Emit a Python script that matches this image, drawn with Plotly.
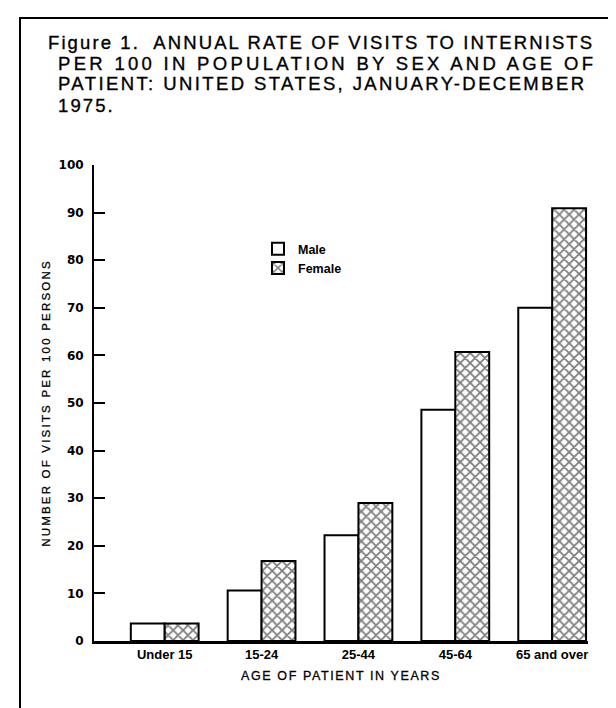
import plotly.graph_objects as go

# ---- data ----
age_groups = ["Under 15", "15-24", "25-44", "45-64", "65 and over"]
male_rate = [3.7, 10.6, 22.2, 48.6, 70.0]
female_rate = [3.7, 16.8, 29.0, 60.7, 90.9]
y_ticks = [0, 10, 20, 30, 40, 50, 60, 70, 80, 90, 100]

title_lines = [
    "Figure 1.  ANNUAL RATE OF VISITS TO INTERNISTS",
    "PER 100 IN POPULATION BY SEX AND AGE OF",
    "PATIENT: UNITED STATES, JANUARY-DECEMBER",
    "1975.",
]

W, H = 616, 708
L, R = 86, 580          # plot area x in px
T, B = 157, 633         # plot area y in px

x_pos = list(range(len(age_groups)))

def sp(text, ls, stroke=0.3):
    return (f"<span style='letter-spacing:{ls}px;stroke:black;"
            f"stroke-width:{stroke}px'>{text}</span>")

fig = go.Figure()
fig.add_trace(go.Bar(
    x=x_pos, y=male_rate, name="Male",
    marker=dict(color="white", line=dict(color="black", width=2)),
))
fig.add_trace(go.Bar(
    x=x_pos, y=female_rate, name="Female",
    marker=dict(color="white", line=dict(color="black", width=2),
                pattern=dict(shape="x", fgcolor="black", bgcolor="white",
                             size=7, solidity=0.45)),
))

def px_x(p):
    return (p - L) / (R - L)

def px_y(p):
    return (B - p) / (B - T)

shapes = [
    dict(type="rect", xref="paper", yref="paper",
         x0=px_x(12), x1=px_x(613), y0=px_y(715), y1=px_y(10),
         line=dict(color="black", width=2), fillcolor="rgba(0,0,0,0)", layer="below"),
]

annotations = []
title_x = [38, 48, 48, 48]
title_y = [34, 55, 76, 97]
title_ls = [2.1, 3.3, 2.4, 2.1]
for i, line in enumerate(title_lines):
    annotations.append(dict(
        text=sp(line, title_ls[i], 0.35), xref="paper", yref="paper",
        x=px_x(title_x[i]), y=px_y(title_y[i]),
        xanchor="left", yanchor="middle", showarrow=False,
        font=dict(family="Liberation Sans, Arial", size=18.5, color="black"),
    ))

fig.update_layout(
    width=W, height=H,
    margin=dict(l=L, r=W - R, t=T, b=H - B, pad=0),
    paper_bgcolor="white", plot_bgcolor="white",
    barmode="group", bargap=0.3, bargroupgap=0,
    showlegend=True,
    legend=dict(x=px_x(250), y=px_y(226), xanchor="left", yanchor="top",
                bgcolor="rgba(0,0,0,0)", borderwidth=0,
                font=dict(family="Liberation Sans, Arial", size=12.5, color="black", weight="bold"),
                itemwidth=30),
    shapes=shapes,
    annotations=annotations,
    xaxis=dict(
        range=[-0.73, 4.37], tickvals=x_pos, ticktext=age_groups,
        showgrid=False, zeroline=False, showline=True, linecolor="black", linewidth=2.5,
        ticks="",
        tickfont=dict(family="Liberation Sans, Arial", size=13, color="black", weight="bold"),
        title=dict(text=sp("AGE OF PATIENT IN YEARS", 1.6, 0.3), standoff=10,
                   font=dict(family="Liberation Sans, Arial", size=12.5, color="black")),
    ),
    yaxis=dict(
        range=[0, 100], tickvals=y_ticks,
        showgrid=False, zeroline=False, showline=True, linecolor="black", linewidth=2,
        ticks="inside", ticklen=11, tickwidth=2, tickcolor="black",
        ticklabelstandoff=6,
        tickfont=dict(family="DejaVu Sans", size=12, color="black", weight="bold"),
        title=dict(text=sp("NUMBER OF VISITS PER 100 PERSONS", 2.2, 0.3), standoff=6,
                   font=dict(family="Liberation Sans, Arial", size=11.5, color="black")),
    ),
)

fig.write_html("out.html")
